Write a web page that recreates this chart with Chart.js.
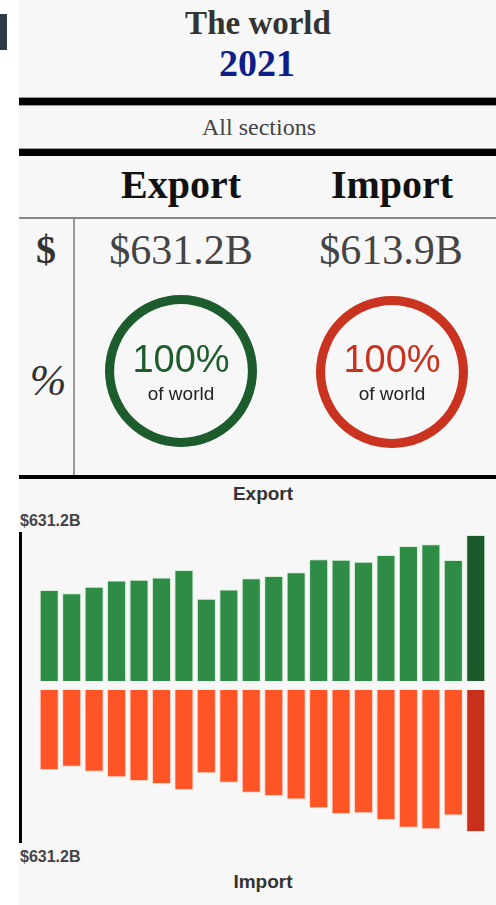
<!DOCTYPE html>
<html>
<head>
<meta charset="utf-8">
<script src="https://cdn.jsdelivr.net/npm/chart.js@4/dist/chart.umd.min.js"></script>
<style>
  html, body { margin:0; padding:0; background:#ffffff; }
  body { width:496px; height:905px; position:relative; overflow:hidden; }
  .abs { position:absolute; white-space:nowrap; }
  .serif { font-family:"Liberation Serif","Times New Roman",serif; }
  .sans { font-family:"Liberation Sans",Arial,sans-serif; }
  #panel { position:absolute; left:19px; top:0; width:477px; height:905px; background:#f7f7f7; }
  .ctr { text-align:center; transform:translateX(-50%); }
</style>
</head>
<body>
<div class="abs" style="left:0;top:14px;width:7px;height:36px;background:#2c3947;"></div>
<div id="panel"></div>

<!-- header -->
<div class="abs serif ctr" style="left:258px;top:7px;font-size:33px;line-height:33px;font-weight:bold;color:#333;">The world</div>
<div class="abs serif ctr" style="left:257px;top:44px;font-size:38px;line-height:38px;font-weight:bold;color:#0f1f8a;" id="yearLbl"></div>
<div class="abs" style="left:19px;top:97px;width:477px;height:1px;background:#999;"></div>
<div class="abs" style="left:19px;top:98px;width:477px;height:7px;background:#000;"></div>
<div class="abs" style="left:19px;top:105px;width:477px;height:1px;background:#999;"></div>
<div class="abs serif ctr" style="left:259px;top:115px;font-size:24px;line-height:24px;color:#444;" id="sectionLbl"></div>
<div class="abs" style="left:19px;top:148px;width:477px;height:1px;background:#999;"></div>
<div class="abs" style="left:19px;top:149px;width:477px;height:7px;background:#000;"></div>

<!-- table -->
<div class="abs serif ctr" style="left:181px;top:165px;font-size:40px;line-height:40px;font-weight:bold;color:#111;" id="h0"></div>
<div class="abs serif ctr" style="left:392px;top:165px;font-size:40px;line-height:40px;font-weight:bold;color:#111;" id="h1"></div>
<div class="abs" style="left:19px;top:217px;width:477px;height:2px;background:#888;"></div>
<div class="abs" style="left:73px;top:219px;width:2px;height:256px;background:#999;"></div>
<div class="abs serif ctr" style="left:46px;top:230px;font-size:40px;line-height:40px;font-weight:bold;color:#333;">$</div>
<div class="abs serif ctr" style="left:48px;top:359px;font-size:44px;line-height:44px;font-style:italic;color:#333;">%</div>
<div class="abs serif ctr" style="left:181px;top:229px;font-size:42px;line-height:42px;color:#444;" id="v0"></div>
<div class="abs serif ctr" style="left:391px;top:229px;font-size:42px;line-height:42px;color:#444;" id="v1"></div>

<canvas id="ring0" class="abs" width="160" height="160" style="left:101px;top:291px;"></canvas>
<canvas id="ring1" class="abs" width="160" height="160" style="left:312px;top:292px;"></canvas>
<div class="abs sans ctr" style="left:181px;top:340px;font-size:38px;line-height:38px;color:#1f5c2e;" id="p0"></div>
<div class="abs sans ctr" style="left:392px;top:340px;font-size:38px;line-height:38px;color:#c8321e;" id="p1"></div>
<div class="abs sans ctr" style="left:181px;top:384px;font-size:19px;line-height:19px;color:#222;">of world</div>
<div class="abs sans ctr" style="left:392px;top:384px;font-size:19px;line-height:19px;color:#222;">of world</div>
<div class="abs" style="left:19px;top:475px;width:477px;height:4px;background:#000;"></div>

<!-- chart -->
<div class="abs sans ctr" style="left:263px;top:484px;font-size:19px;line-height:19px;font-weight:bold;color:#333;">Export</div>
<div class="abs sans" style="left:20px;top:513px;font-size:16px;line-height:16px;font-weight:bold;color:#444;" id="maxTop"></div>
<div class="abs" style="left:19px;top:532px;width:3px;height:311px;background:#000;"></div>
<canvas id="expChart" class="abs" width="449" height="152" style="left:38px;top:532px;"></canvas>
<canvas id="impChart" class="abs" width="449" height="152" style="left:38px;top:687px;"></canvas>
<div class="abs sans" style="left:20px;top:849px;font-size:16px;line-height:16px;font-weight:bold;color:#444;" id="maxBot"></div>
<div class="abs sans ctr" style="left:263px;top:872px;font-size:19px;line-height:19px;font-weight:bold;color:#333;">Import</div>

<script>
// ---- data ----
const selectedYear = '2021';
const sectionLabel = 'All sections';
const flowNames = ['Export', 'Import'];
const flowTotals = ['$631.2B', '$613.9B'];
const worldShare = [100, 100];
const scaleMaxLabel = '$631.2B';
const scaleMax = 631.2; // billions USD
const years = ['2002','2003','2004','2005','2006','2007','2008','2009','2010','2011',
               '2012','2013','2014','2015','2016','2017','2018','2019','2020','2021'];
const exportValues = [393, 379, 408, 434, 438, 448, 480, 356, 396, 444,
                      454, 470, 526, 524, 516, 545, 584, 591, 523, 631.2];
const importValues = [346, 332, 353, 377, 393, 406, 432, 360, 401, 444,
                      458, 473, 511, 536, 533, 562, 595, 602, 543, 613.9];

// ---- text ----
document.getElementById('yearLbl').textContent = selectedYear;
document.getElementById('sectionLbl').textContent = sectionLabel;
document.getElementById('h0').textContent = flowNames[0];
document.getElementById('h1').textContent = flowNames[1];
document.getElementById('v0').textContent = flowTotals[0];
document.getElementById('v1').textContent = flowTotals[1];
document.getElementById('p0').textContent = worldShare[0] + '%';
document.getElementById('p1').textContent = worldShare[1] + '%';
document.getElementById('maxTop').textContent = scaleMaxLabel;
document.getElementById('maxBot').textContent = scaleMaxLabel;

Chart.defaults.animation = false;
Chart.defaults.plugins.legend.display = false;
Chart.defaults.plugins.tooltip.enabled = false;

function ring(id, pct, color) {
  new Chart(document.getElementById(id), {
    type: 'doughnut',
    data: { labels: ['share', 'rest'],
      datasets: [{ data: [pct, 100 - pct], backgroundColor: [color, 'rgba(0,0,0,0)'], borderWidth: 0 }] },
    options: { responsive: false, cutout: '88%', layout: { padding: 4 }, events: [] }
  });
}
ring('ring0', worldShare[0], '#1d5c2c');
ring('ring1', worldShare[1], '#c9331f');

const selIdx = years.indexOf(selectedYear);
function barChart(id, values, base, dark, rim, reverse) {
  new Chart(document.getElementById(id), {
    type: 'bar',
    data: { labels: years, datasets: [{
      data: values,
      backgroundColor: values.map((v, i) => i === selIdx ? dark : base),
      borderColor: rim, borderWidth: 1,
      categoryPercentage: 1, barPercentage: 0.85
    }] },
    options: {
      responsive: false, events: [],
      layout: { padding: { top: 3, bottom: 3, left: 0, right: 0 } },
      scales: {
        x: { display: false },
        y: { display: false, min: 0, max: scaleMax, reverse: reverse }
      }
    }
  });
}
barChart('expChart', exportValues, '#2e8c47', '#1b5a2b', 'rgba(200,235,200,0.7)', false);
barChart('impChart', importValues, '#ff5526', '#c9301c', 'rgba(255,200,180,0.7)', true);
</script>
</body>
</html>
